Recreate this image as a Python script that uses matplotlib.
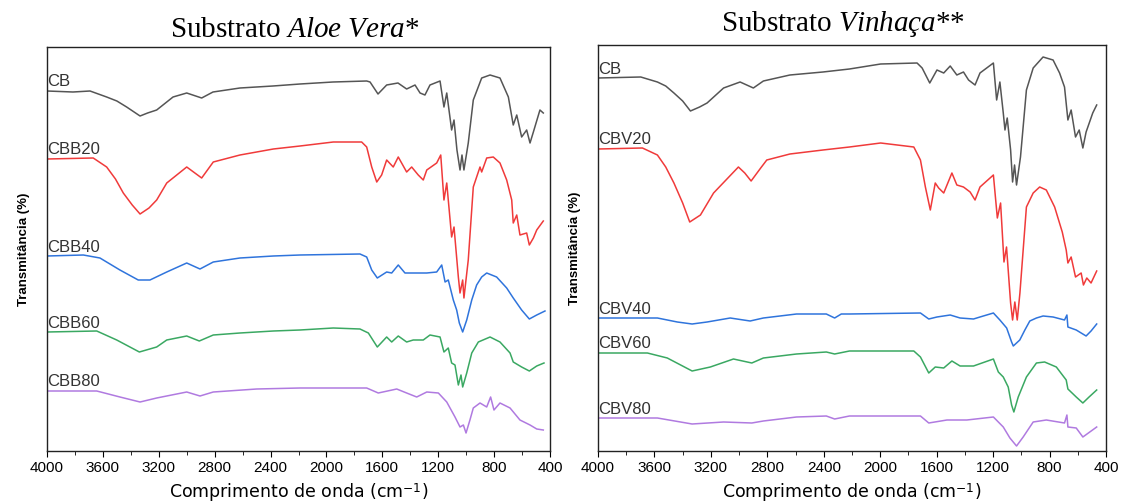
import matplotlib.pyplot as plt
from matplotlib.ticker import MultipleLocator, NullLocator

# FTIR spectra: wavenumber (cm-1) and transmittance (arbitrary, offset units)

# --- Substrato Aloe Vera ---
wn_cb_a = [4000, 3814, 3692, 3573, 3500, 3430, 3334, 3280, 3215, 3098, 3000, 2893, 2812, 2619, 2383, 2189, 1953, 1712,
           1688, 1631, 1569, 1488, 1426, 1366, 1330, 1295, 1259, 1187, 1159, 1139, 1104, 1087, 1066, 1044,
           1030, 1016, 985, 949, 889, 829, 758, 698, 663, 638, 603, 567, 543, 519, 472, 448]
t_cb_a = [360, 359, 360, 354, 350, 344, 335, 338, 341, 354, 358, 353, 359, 363, 365, 367, 369, 370,
          369, 357, 366, 368, 362, 366, 358, 356, 366, 370, 344, 358, 321, 331, 301, 281,
          296, 281, 308, 351, 373, 376, 373, 354, 326, 336, 314, 321, 308, 319, 341, 338]

wn_cbb20 = [4000, 3669, 3573, 3510, 3454, 3390, 3334, 3270, 3215, 3143, 3000, 2893, 2810, 2619, 2380, 2189, 1951, 1748, 1712,
            1676, 1640, 1605, 1569, 1522, 1486, 1426, 1390, 1343, 1307, 1282, 1211, 1182, 1159, 1139, 1104,
            1087, 1056, 1044, 1025, 1016, 985, 949, 901, 889, 853, 806, 758, 710, 674, 663, 638,
            615, 567, 548, 519, 495, 448]
t_cbb20 = [292, 293, 284, 272, 258, 246, 237, 243, 251, 268, 284, 273, 289, 296, 302, 305, 309, 309, 304,
           284, 269, 276, 291, 284, 294, 279, 284, 276, 271, 281, 288, 296, 251, 268, 214,
           224, 174, 158, 171, 153, 191, 264, 284, 279, 293, 294, 288, 271, 251, 228, 236,
           216, 218, 206, 213, 221, 230]

wn_cbb40 = [4000, 3740, 3621, 3478, 3347, 3263, 3143, 3000, 2905, 2810, 2619, 2380, 2189, 1760, 1712, 1676,
            1636, 1569, 1533, 1486, 1438, 1379, 1282, 1211, 1175, 1151, 1128, 1092, 1068, 1049, 1025, 996,
            960, 925, 889, 853, 782, 710, 663, 603, 548, 495, 436]
t_cbb40 = [195, 196, 193, 181, 171, 171, 179, 188, 182, 189, 193, 195, 196, 197, 194, 181,
           173, 179, 178, 186, 178, 178, 178, 179, 186, 169, 171, 151, 141, 128, 119, 131,
           151, 166, 174, 178, 174, 163, 153, 141, 132, 136, 140]

wn_cbb60 = [4000, 3644, 3501, 3339, 3215, 3143, 3000, 2910, 2810, 2619, 2380, 2189, 1951, 1760, 1700, 1636,
            1569, 1533, 1486, 1426, 1379, 1307, 1259, 1187, 1159, 1128, 1104, 1080, 1056, 1037, 1025, 996,
            960, 913, 829, 758, 686, 663, 603, 548, 495, 443]
t_cbb60 = [119, 120, 111, 99, 104, 111, 115, 110, 116, 118, 120, 121, 123, 122, 118, 104,
           114, 109, 115, 109, 111, 111, 116, 114, 99, 103, 88, 86, 66, 76, 64, 78,
           98, 109, 114, 109, 98, 89, 84, 80, 85, 88]

wn_cbb80 = [4000, 3644, 3478, 3334, 3215, 3000, 2905, 2810, 2499, 2189, 1712, 1629, 1497, 1426, 1354, 1282,
            1199, 1139, 1080, 1044, 1020, 1001, 973, 949, 901, 853, 825, 801, 758, 686, 615, 543,
            495, 448]
t_cbb80 = [60, 60, 54, 49, 53, 59, 55, 59, 62, 63, 63, 58, 62, 58, 54, 59,
           58, 49, 34, 24, 26, 18, 31, 43, 48, 44, 54, 41, 48, 43, 31, 26,
           22, 21]

# --- Substrato Vinhaça ---
wn_cb_v = [4000, 3697, 3579, 3520, 3462, 3400, 3345, 3280, 3227, 3110, 2993, 2899, 2828, 2640, 2406, 2218, 1997, 1739, 1703,
           1649, 1598, 1550, 1504, 1457, 1410, 1374, 1328, 1293, 1198, 1175, 1152, 1128, 1116, 1100, 1076,
           1062, 1048, 1034, 1006, 964, 916, 846, 775, 729, 694, 670, 647, 616, 590, 564, 541,
           494, 466]
t_cb_v = [373, 374, 369, 365, 358, 350, 340, 344, 348, 363, 369, 363, 370, 376, 379, 382, 387, 388, 383,
          368, 381, 378, 385, 376, 379, 371, 366, 378, 388, 351, 369, 338, 321, 333, 301,
          269, 286, 266, 294, 361, 383, 394, 391, 378, 364, 331, 341, 314, 321, 303, 319,
          338, 346]

wn_cbv20 = [4000, 3685, 3579, 3520, 3462, 3400, 3350, 3274, 3181, 3005, 2960, 2915, 2847, 2804, 2640, 2406, 2218, 1997,
            1762, 1715, 1680, 1645, 1610, 1586, 1550, 1492, 1457, 1410, 1363, 1328, 1293, 1198, 1170, 1147,
            1123, 1105, 1076, 1062, 1046, 1029, 1010, 964, 916, 870, 823, 764, 710, 682, 670, 647,
            616, 576, 560, 536, 506, 466]
t_cbv20 = [302, 303, 296, 284, 268, 248, 229, 236, 258, 284, 278, 270, 283, 291, 297, 301, 304, 308,
           304, 291, 264, 241, 268, 263, 258, 278, 266, 264, 259, 251, 264, 276, 233, 248,
           189, 204, 148, 131, 149, 131, 158, 244, 258, 264, 261, 244, 219, 201, 188, 194,
           174, 178, 166, 173, 168, 180]

wn_cbv40 = [4000, 3579, 3438, 3333, 3227, 3063, 2922, 2828, 2593, 2382, 2323, 2276, 2218, 1715, 1656, 1598,
            1504, 1434, 1339, 1293, 1198, 1152, 1104, 1069, 1057, 1011, 975, 940, 893, 846, 775, 694,
            677, 670, 611, 541, 506, 466]
t_cbv40 = [133, 133, 129, 127, 129, 133, 130, 133, 137, 137, 133, 137, 137, 138, 132, 134,
           136, 133, 132, 134, 138, 131, 123, 109, 105, 111, 121, 130, 133, 135, 134, 131,
           136, 124, 121, 115, 120, 127]

wn_cbv60 = [4000, 3650, 3509, 3333, 3204, 3040, 2910, 2828, 2593, 2382, 2323, 2218, 1762, 1715, 1656, 1610,
            1550, 1492, 1434, 1339, 1198, 1163, 1128, 1093, 1069, 1053, 1022, 964, 893, 835, 752, 682,
            670, 611, 564, 520, 466]
t_cbv60 = [98, 98, 93, 80, 84, 92, 88, 93, 97, 99, 97, 100, 100, 94, 78, 84,
           83, 90, 85, 85, 92, 79, 74, 64, 46, 39, 54, 74, 88, 89, 84, 71,
           62, 54, 48, 54, 61]

wn_cbv80 = [4000, 3579, 3333, 3110, 2910, 2828, 2593, 2382, 2323, 2218, 1715, 1656, 1527, 1386, 1198, 1128,
            1081, 1034, 987, 916, 823, 694, 677, 670, 611, 564, 466]
t_cbv80 = [33, 33, 27, 29, 28, 30, 34, 35, 32, 35, 35, 28, 31, 31, 34, 24,
           13, 5, 14, 29, 31, 28, 36, 24, 23, 14, 24]

names_aloe = ['CB', 'CBB20', 'CBB40', 'CBB60', 'CBB80']
names_vinh = ['CB', 'CBV20', 'CBV40', 'CBV60', 'CBV80']
colors = ['#555555', '#f03a3a', '#2f74dc', '#3aa862', '#b07ae0']

aloe = list(zip(names_aloe, [wn_cb_a, wn_cbb20, wn_cbb40, wn_cbb60, wn_cbb80],
                [t_cb_a, t_cbb20, t_cbb40, t_cbb60, t_cbb80]))
vinh = list(zip(names_vinh, [wn_cb_v, wn_cbv20, wn_cbv40, wn_cbv60, wn_cbv80],
                [t_cb_v, t_cbv20, t_cbv40, t_cbv60, t_cbv80]))

plt.rcParams['font.family'] = ['Liberation Sans', 'DejaVu Sans']
plt.rcParams['mathtext.fontset'] = 'custom'
plt.rcParams['mathtext.rm'] = 'Liberation Serif'
plt.rcParams['mathtext.it'] = 'Liberation Serif:italic'
plt.rcParams['mathtext.sf'] = 'DejaVu Sans'

fig = plt.figure(figsize=(11.21, 5.04), dpi=100)
ax1 = fig.add_axes([47 / 1121, 53 / 504, 503 / 1121, 404 / 504])
ax2 = fig.add_axes([598 / 1121, 53 / 504, 508 / 1121, 406 / 504])


def draw_panel(ax, series, top):
    for (name, wn, t), c in zip(series, colors):
        ax.plot(wn, t, color=c, lw=1.1)
        ax.text(wn[0], t[0] + 1.5, name, ha='left', va='bottom', fontsize=12, color='#333333')
    ax.set_xlim(4000, 400)
    ax.set_ylim(0, top)
    ax.xaxis.set_major_locator(MultipleLocator(400))
    ax.xaxis.set_minor_locator(MultipleLocator(200))
    ax.yaxis.set_major_locator(NullLocator())
    ax.tick_params(axis='x', which='major', direction='out', length=4, labelsize=11, pad=3)
    ax.tick_params(axis='x', which='minor', direction='out', length=3)
    for s in ax.spines.values():
        s.set_linewidth(1.0)
        s.set_color('#222222')
    ax.set_xlabel(r'Comprimento de onda (cm$^{\mathsf{-1}}$)', family='DejaVu Sans',
                  fontsize=12.5, labelpad=5)
    ax.set_ylabel('Transmitância (%)', fontsize=9.5, fontweight='bold', labelpad=12)


draw_panel(ax1, aloe, 404)
draw_panel(ax2, vinh, 406)

fig.text(295 / 1121, 1 - 37 / 504, r'Substrato $\mathit{Aloe\ Vera}$*', family='Liberation Serif',
         fontsize=21, ha='center', va='baseline')
fig.text(843 / 1121, 1 - 31 / 504, r'Substrato $\mathit{Vinhaça}$**', family='Liberation Serif',
         fontsize=21, ha='center', va='baseline')

fig.savefig('out.png', dpi=100)
